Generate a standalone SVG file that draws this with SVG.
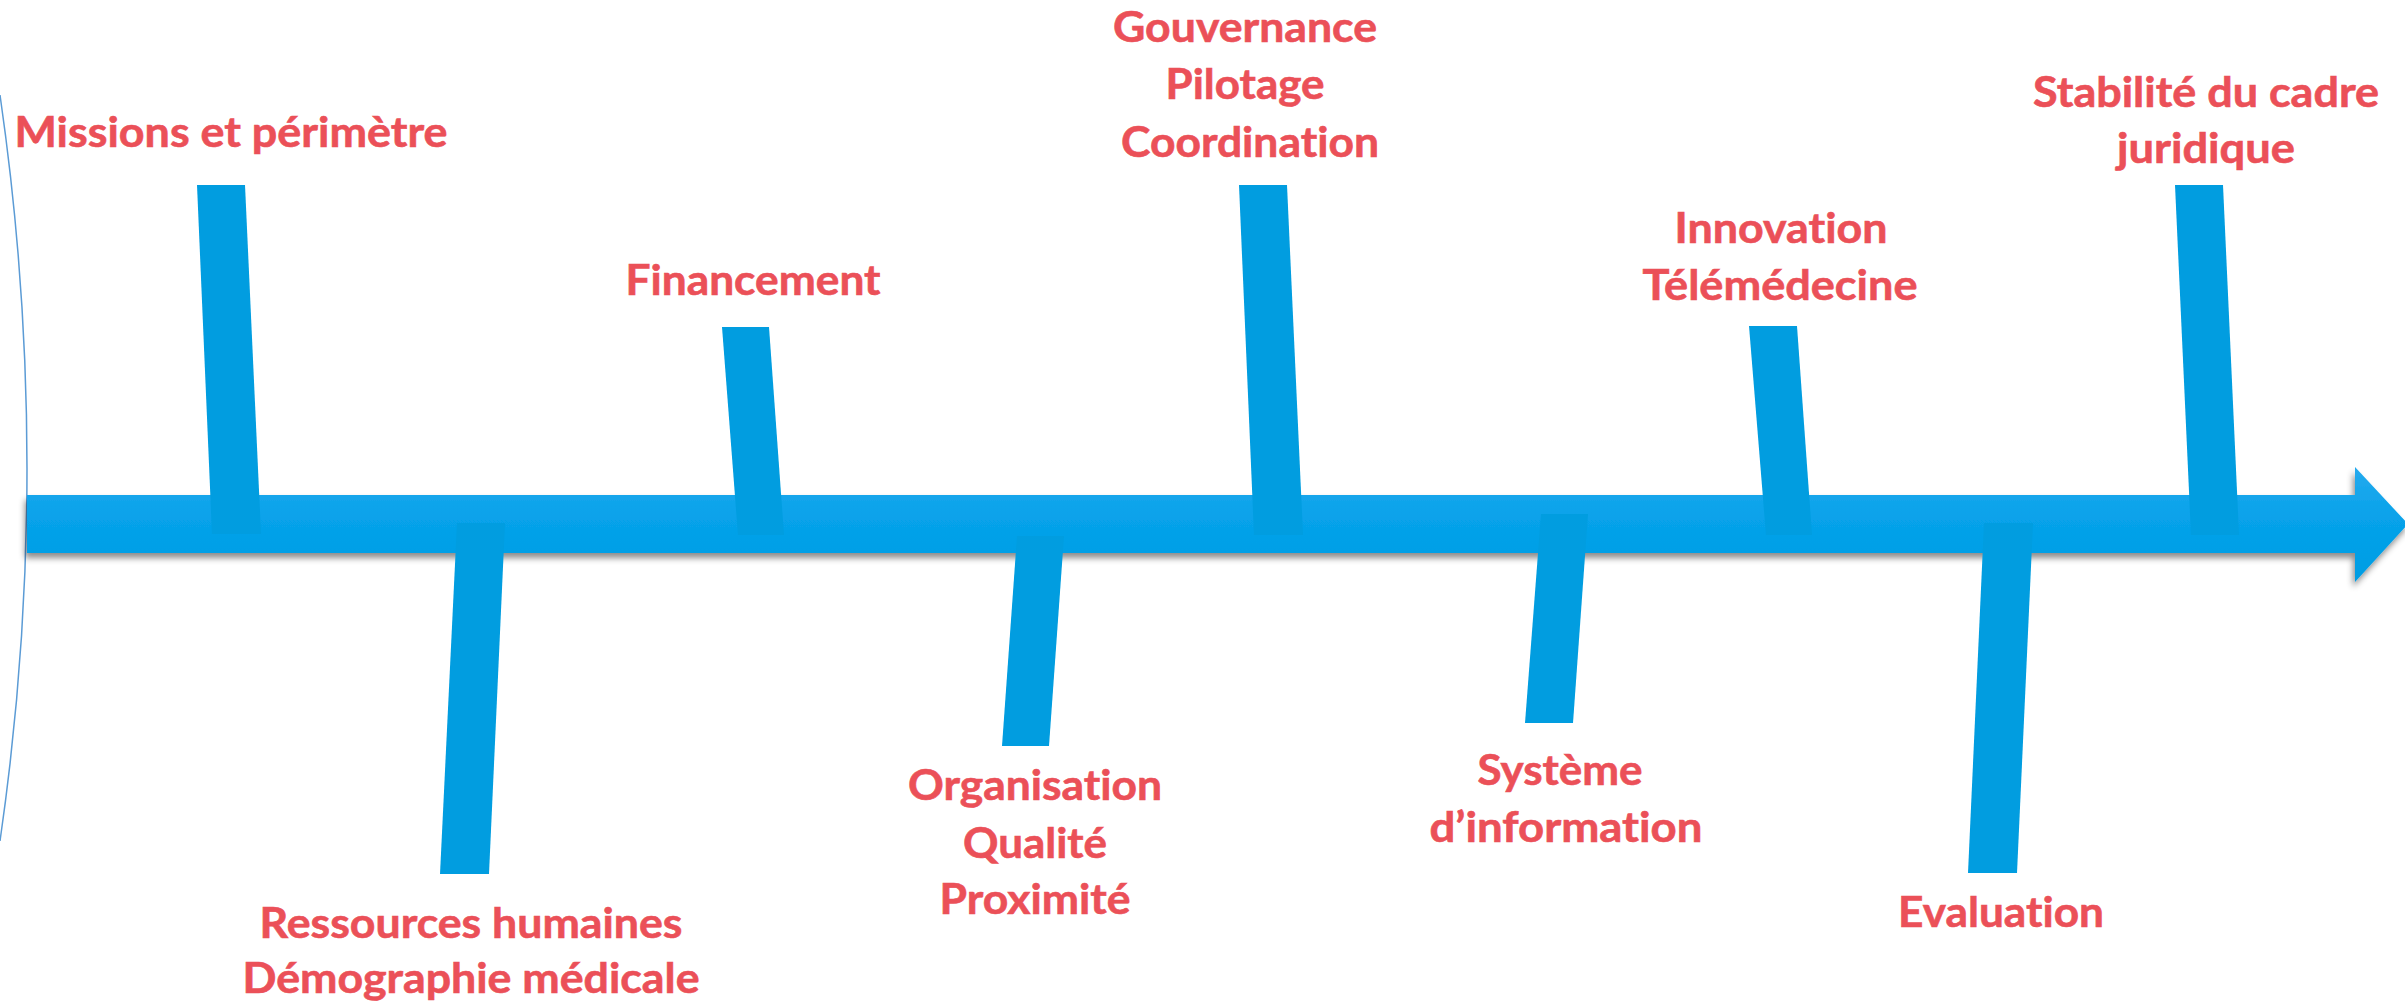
<svg xmlns="http://www.w3.org/2000/svg" width="2405" height="1004" viewBox="0 0 2405 1004">
<defs>
<linearGradient id="spineGrad" x1="0" y1="0" x2="0" y2="1">
<stop offset="0" stop-color="#25AAEE"/>
<stop offset="0.45" stop-color="#07A2EA"/>
<stop offset="1" stop-color="#009DE3"/>
</linearGradient>
<filter id="shadow" x="-0.02" y="-0.5" width="1.04" height="2">
<feDropShadow dx="-2" dy="5" stdDeviation="3" flood-color="#000" flood-opacity="0.45"/>
</filter>
</defs>
<style>
.bone{fill:#019DE0}
.lbl{font-family:Lato,"Open Sans","Liberation Sans",sans-serif;font-weight:bold;font-size:42px;fill:#EB5058;text-anchor:middle;font-variant-ligatures:none;font-feature-settings:"liga" 0,"clig" 0,"dlig" 0;stroke:#EB5058;stroke-width:0.6}
</style>
<rect width="2405" height="1004" fill="#FFFFFF"/>
<g id="connectors">
<path id="left-curve" d="M0,95 Q54,468 0,841" fill="none" stroke="#5B9BD5" stroke-width="1.5"/>
<path id="spine" d="M27,495 H2355 V467 L2408,524 L2355,582 V553 H27 Z" fill="url(#spineGrad)" filter="url(#shadow)"/>
</g>
<g id="node-missions">
<polygon class="bone" points="197,185 245,185 261,534 212,534"/>
<text class="lbl" x="231" y="147" textLength="433" lengthAdjust="spacingAndGlyphs">Missions et périmètre</text>
</g>
<g id="node-financement">
<polygon class="bone" points="722,327 769,327 784,535 738,535"/>
<text class="lbl" x="753" y="295" textLength="255" lengthAdjust="spacingAndGlyphs">Financement</text>
</g>
<g id="node-gouvernance">
<polygon class="bone" points="1239,185 1287,185 1303,535 1254,535"/>
<text class="lbl" x="1245" y="42" textLength="264" lengthAdjust="spacingAndGlyphs">Gouvernance</text>
<text class="lbl" x="1245" y="99" textLength="159" lengthAdjust="spacingAndGlyphs">Pilotage</text>
<text class="lbl" x="1250" y="157" textLength="258" lengthAdjust="spacingAndGlyphs">Coordination</text>
</g>
<g id="node-innovation">
<polygon class="bone" points="1749,326 1797,326 1812,535 1766,535"/>
<text class="lbl" x="1781" y="243" textLength="213" lengthAdjust="spacingAndGlyphs">Innovation</text>
<text class="lbl" x="1780" y="300" textLength="275" lengthAdjust="spacingAndGlyphs">Télémédecine</text>
</g>
<g id="node-stabilite">
<polygon class="bone" points="2175,185 2223,185 2239,535 2191,535"/>
<text class="lbl" x="2206" y="107" textLength="346" lengthAdjust="spacingAndGlyphs">Stabilité du cadre</text>
<text class="lbl" x="2206" y="163" textLength="178" lengthAdjust="spacingAndGlyphs">juridique</text>
</g>
<g id="node-rh">
<polygon class="bone" points="457,523 505,523 489,874 440,874"/>
<text class="lbl" x="471" y="938" textLength="423" lengthAdjust="spacingAndGlyphs">Ressources humaines</text>
<text class="lbl" x="471" y="993" textLength="457" lengthAdjust="spacingAndGlyphs">Démographie médicale</text>
</g>
<g id="node-organisation">
<polygon class="bone" points="1017,536 1064,536 1049,746 1002,746"/>
<text class="lbl" x="1035" y="800" textLength="254" lengthAdjust="spacingAndGlyphs">Organisation</text>
<text class="lbl" x="1035" y="858" textLength="144" lengthAdjust="spacingAndGlyphs">Qualité</text>
<text class="lbl" x="1035" y="914" textLength="191" lengthAdjust="spacingAndGlyphs">Proximité</text>
</g>
<g id="node-systeme">
<polygon class="bone" points="1541,514 1588,514 1573,723 1525,723"/>
<text class="lbl" x="1560" y="785" textLength="165" lengthAdjust="spacingAndGlyphs">Système</text>
<text class="lbl" x="1566" y="842" textLength="273" lengthAdjust="spacingAndGlyphs">d’information</text>
</g>
<g id="node-evaluation">
<polygon class="bone" points="1984,523 2033,523 2017,873 1968,873"/>
<text class="lbl" x="2001" y="927" textLength="206" lengthAdjust="spacingAndGlyphs">Evaluation</text>
</g>
</svg>
